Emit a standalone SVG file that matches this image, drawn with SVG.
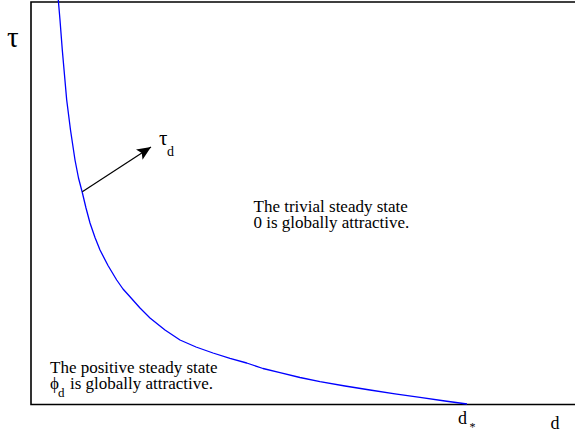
<svg xmlns="http://www.w3.org/2000/svg" width="575" height="433" viewBox="0 0 575 433">
<style>
  text { font-family: "Liberation Serif", "Times New Roman", serif; fill: #000; }
  .lbl { font-size: 17px; }
  .sub { font-size: 13px; }
  .axis { stroke: #000; stroke-width: 1.6; fill: none; }
</style>
<defs>
  <marker id="ah" markerWidth="16" markerHeight="12" refX="14" refY="6" orient="auto" markerUnits="userSpaceOnUse">
    <path d="M0,0 L14,6 L0,12 L3,6 Z" fill="#000"/>
  </marker>
</defs>
<g id="axes">
  <polyline class="axis" points="575,2 31,2 31,404.5 575,404.5"/>
</g>
<g id="curve">
  <polyline fill="none" stroke="#0000ff" stroke-width="1.3" stroke-linejoin="round" points="58.3,0 60,20 62.3,50 66.7,100 70.5,130 75,160 78.5,178 82.3,192.5 86,208 90,223 95,237.5 100,250 108,265.5 116.7,280 123,289 130,296.7 140,308 150,318 165,330 180,340 196,347 213,353 230,358.3 246.7,363 263,368.5 280,372.7 300,377.5 320,381.7 345,386 370,390 395,393.8 420,397.3 445,401 467,404"/>
</g>
<g id="connectors">
  <line x1="82.3" y1="191.7" x2="151" y2="147" stroke="#000" stroke-width="1.2" marker-end="url(#ah)"/>
</g>
<g id="label-tau-axis">
  <text x="7" y="47" font-size="29" font-weight="normal">τ</text>
</g>
<g id="label-d-axis">
  <text x="550.5" y="428.5" font-size="18">d</text>
</g>
<g id="label-dstar">
  <text x="458" y="423.5" font-size="18">d</text>
  <text x="469.5" y="431" font-size="12">*</text>
</g>
<g id="label-taud">
  <text x="159" y="145" font-size="21">τ</text>
  <text x="167" y="155.5" font-size="14">d</text>
</g>
<g id="region-trivial">
  <text class="lbl" x="253.5" y="212">The trivial steady state</text>
  <text class="lbl" x="253.5" y="227.5">0 is globally attractive.</text>
</g>
<g id="region-positive">
  <text class="lbl" x="50" y="373">The positive steady state</text>
  <text class="lbl" x="50" y="388.5">ϕ</text>
  <text class="sub" x="58" y="396.5">d</text>
  <text class="lbl" x="70" y="388.5">is globally attractive.</text>
</g>
</svg>
